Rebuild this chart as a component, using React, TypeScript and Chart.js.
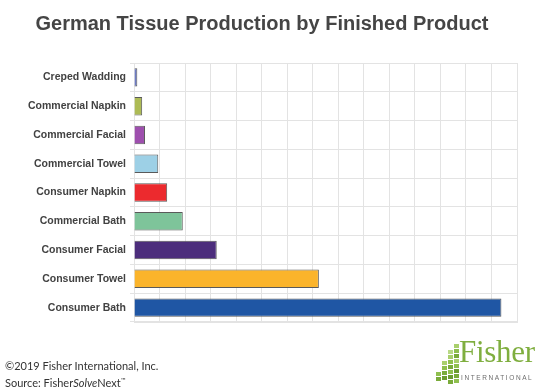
import React, { useEffect, useRef } from "react";
import { Chart, registerables } from "chart.js";

Chart.register(...registerables);

const categories = [
  "Creped Wadding",
  "Commercial Napkin",
  "Commercial Facial",
  "Commercial Towel",
  "Consumer Napkin",
  "Commercial Bath",
  "Consumer Facial",
  "Consumer Towel",
  "Consumer Bath",
];
const values = [0.13, 0.32, 0.43, 0.95, 1.3, 1.91, 3.24, 7.24, 14.39];
const barColors = [
  "#6e7cc4",
  "#adbb55",
  "#9e4fae",
  "#9dd0e6",
  "#ec2a2e",
  "#7ec49a",
  "#4c2d7c",
  "#fbb42b",
  "#1f56a4",
];
const xMax = 15;

const titleText = "German Tissue Production by Finished Product";
const footerLine1 = "©2019 Fisher International, Inc.";

const logoCells: [number, number, string][] = [
  [0, 5, "#8fbf4f"], [0, 6, "#7aab3a"],
  [1, 3, "#a9cf6c"], [1, 4, "#8fbf4f"], [1, 5, "#7aab3a"], [1, 6, "#6c9c30"],
  [2, 1, "#b9d986"], [2, 2, "#a9cf6c"], [2, 3, "#8fbf4f"], [2, 4, "#7aab3a"], [2, 5, "#8fbf4f"], [2, 6, "#6c9c30"], [2, 7, "#7aab3a"],
  [3, 0, "#a9cf6c"], [3, 1, "#8fbf4f"], [3, 2, "#7aab3a"], [3, 3, "#a9cf6c"], [3, 4, "#8fbf4f"], [3, 5, "#6c9c30"], [3, 6, "#7aab3a"], [3, 7, "#8fbf4f"],
];

export default function App() {
  const ref = useRef<HTMLCanvasElement>(null);
  useEffect(() => {
    const grid = "#e3e3e3";
    const chart = new Chart(ref.current!, {
      type: "bar",
      data: {
        labels: categories,
        datasets: [
          {
            data: values,
            backgroundColor: barColors,
            borderColor: "#5a5a5a",
            borderWidth: 1,
            barPercentage: 0.64,
            categoryPercentage: 1,
          },
        ],
      },
      options: {
        indexAxis: "y",
        responsive: false,
        animation: false,
        layout: { padding: { top: 63, right: 33, bottom: 66, left: 0 } },
        plugins: { legend: { display: false }, tooltip: { enabled: false }, title: { display: false } },
        scales: {
          x: {
            min: 0,
            max: xMax,
            ticks: { display: false, stepSize: 1 },
            grid: { color: grid, drawTicks: false, tickLength: 0 },
            border: { color: grid },
            afterFit: (s: any) => { s.height = 0; },
          },
          y: {
            grid: { color: grid, tickLength: 4, offset: true },
            border: { color: grid },
            ticks: {
              color: "#424242",
              padding: 4,
              font: { family: "'Liberation Sans', Arial, sans-serif", size: 10.5, weight: "bold" },
            },
            afterFit: (s: any) => { s.width = 134; },
          },
        },
      },
    });
    return () => chart.destroy();
  }, []);

  return (
    <div style={{ position: "fixed", left: 0, top: 0, width: 550, height: 388, background: "#fff", overflow: "hidden" }}>
      <canvas ref={ref} width={550} height={388} style={{ position: "absolute", left: 0, top: 0 }} />
      <div
        style={{
          position: "absolute",
          left: 0,
          width: 524,
          top: 12,
          textAlign: "center",
          fontFamily: "'Liberation Sans', Arial, sans-serif",
          fontWeight: "bold",
          fontSize: 20,
          color: "#454545",
          whiteSpace: "nowrap",
        }}
      >
        {titleText}
      </div>
      <div
        style={{
          position: "absolute",
          left: 5,
          top: 359,
          fontFamily: "Lato, 'Open Sans', sans-serif",
          fontSize: 11,
          lineHeight: "14px",
          color: "#333",
          whiteSpace: "nowrap",
        }}
      >
        <div>{footerLine1}</div>
        <div>
          Source: Fisher<i>Solve</i>Next<sup style={{ fontSize: 6 }}>™</sup>
        </div>
      </div>
      {logoCells.map(([c, r, col], i) => (
        <div
          key={i}
          style={{
            position: "absolute",
            left: 436 + c * 6,
            top: 344 + r * 5 + (3 - c) * 1,
            width: 5,
            height: 4,
            background: col,
          }}
        />
      ))}
      <div
        style={{
          position: "absolute",
          left: 459,
          top: 337,
          fontFamily: "'Liberation Serif', 'DejaVu Serif', serif",
          fontSize: 31,
          lineHeight: "30px",
          color: "#7fae3f",
          letterSpacing: -0.3,
          whiteSpace: "nowrap",
        }}
      >
        Fisher
      </div>
      <div
        style={{
          position: "absolute",
          left: 461,
          top: 374,
          fontFamily: "'Liberation Sans', Arial, sans-serif",
          fontSize: 6.5,
          letterSpacing: 1.6,
          color: "#6d6d6d",
          whiteSpace: "nowrap",
        }}
      >
        INTERNATIONAL
      </div>
    </div>
  );
}
